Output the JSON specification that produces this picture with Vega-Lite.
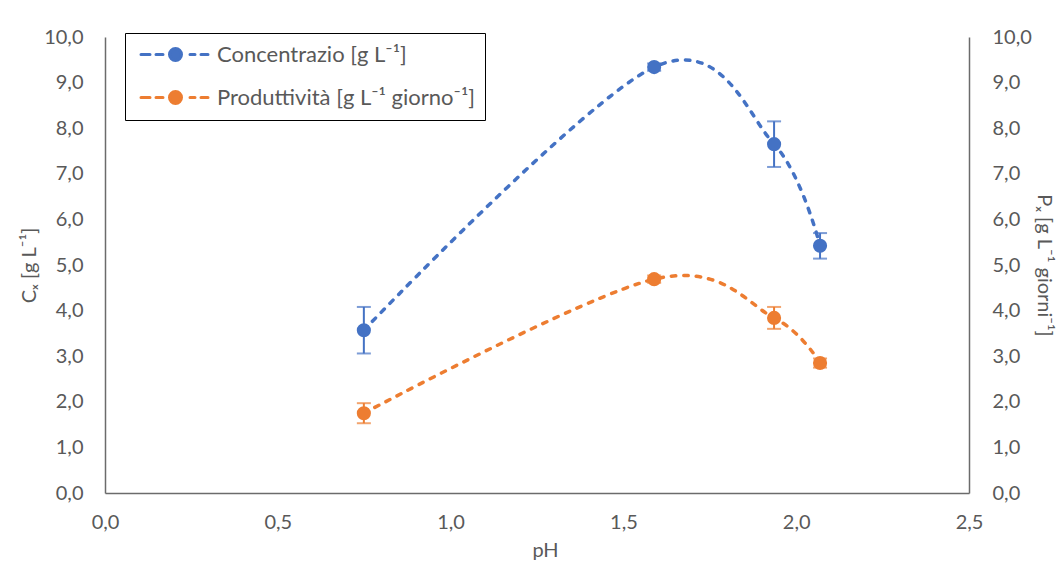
{
  "$schema": "https://vega.github.io/schema/vega-lite/v6.json",
  "autosize": {"type": "none"},
  "padding": {"left": 105, "top": 37, "right": 90, "bottom": 76},
  "width": 864,
  "height": 456,
  "background": "white",
  "data": {"values": [
    {"pH": 0.749, "serie": "Concentrazio [g L⁻¹]", "val": 3.57, "err": 0.51},
    {"pH": 1.589, "serie": "Concentrazio [g L⁻¹]", "val": 9.34, "err": 0.08},
    {"pH": 1.936, "serie": "Concentrazio [g L⁻¹]", "val": 7.65, "err": 0.50},
    {"pH": 2.069, "serie": "Concentrazio [g L⁻¹]", "val": 5.42, "err": 0.28},
    {"pH": 0.749, "serie": "Produttività [g L⁻¹ giorno⁻¹]", "val": 1.75, "err": 0.22},
    {"pH": 1.589, "serie": "Produttività [g L⁻¹ giorno⁻¹]", "val": 4.69, "err": 0.08},
    {"pH": 1.936, "serie": "Produttività [g L⁻¹ giorno⁻¹]", "val": 3.84, "err": 0.24},
    {"pH": 2.069, "serie": "Produttività [g L⁻¹ giorno⁻¹]", "val": 2.85, "err": 0.10}
  ]},
  "encoding": {
    "x": {
      "field": "pH", "type": "quantitative",
      "scale": {"domain": [0, 2.5], "nice": false, "zero": false},
      "axis": {"values": [0, 0.5, 1, 1.5, 2, 2.5], "format": ".1f", "title": "pH", "labelPadding": 19, "titlePadding": 8, "titleX": 440}
    },
    "color": {
      "field": "serie", "type": "nominal",
      "scale": {"domain": ["Concentrazio [g L⁻¹]", "Produttività [g L⁻¹ giorno⁻¹]"], "range": ["#4472C4", "#ED7D31"]},
      "legend": {
        "title": null,
        "orient": "none",
        "legendX": 20,
        "legendY": -4,
        "padding": 10,
        "strokeColor": "#000000",
        "fillColor": "#ffffff",
        "rowPadding": 18,
        "symbolSize": 400,
        "symbolOffset": 29,
        "labelOffset": 30,
        "symbolStrokeWidth": 3,
        "symbolType": "M-3.45,0L-2.55,0M-1.95,0L-1.25,0M1.45,0L1.95,0M2.55,0L3.25,0M-0.6,0A0.6,0.6,0,1,1,0.6,0A0.6,0.6,0,1,1,-0.6,0Z",
        "labelFont": "Lato",
        "labelFontSize": 22,
        "labelColor": "#595959",
        "labelLimit": 400,
        "encode": {
          "symbols": {"update": {
            "fill": {"scale": "color", "field": "value"},
            "stroke": {"scale": "color", "field": "value"},
            "strokeDash": {"value": []},
            "strokeCap": {"value": "round"},
            "opacity": {"value": 1}
          }}
        }
      }
    }
  },
  "layer": [
    {
      "transform": [{"filter": {"field": "serie", "equal": "Concentrazio [g L⁻¹]"}}],
      "encoding": {
        "y": {
          "field": "val", "type": "quantitative",
          "scale": {"domain": [0, 10], "nice": false},
          "axis": {"orient": "left", "values": [0,1,2,3,4,5,6,7,8,9,10], "format": ".1f", "title": "Cₓ [g L⁻¹]", "labelPadding": 22, "titlePadding": 4}
        }
      },
      "layer": [
        {"mark": {"type": "line", "interpolate": "cardinal", "strokeWidth": 3.5, "strokeDash": [4.5, 8], "strokeCap": "round"}},
        {"mark": {"type": "errorbar", "ticks": {"size": 14, "thickness": 2}, "rule": {"strokeWidth": 2}}, "encoding": {"yError": {"field": "err"}}},
        {"mark": {"type": "point", "filled": true, "size": 200, "opacity": 1}}
      ]
    },
    {
      "transform": [{"filter": {"field": "serie", "equal": "Produttività [g L⁻¹ giorno⁻¹]"}}],
      "encoding": {
        "y": {
          "field": "val", "type": "quantitative",
          "scale": {"domain": [0, 10], "nice": false},
          "axis": {"orient": "right", "values": [0,1,2,3,4,5,6,7,8,9,10], "format": ".1f", "title": "Pₓ [g L⁻¹ giorni⁻¹]", "labelPadding": 23, "titlePadding": 2}
        }
      },
      "layer": [
        {"mark": {"type": "line", "interpolate": "cardinal", "strokeWidth": 3.5, "strokeDash": [4.5, 8], "strokeCap": "round"}},
        {"mark": {"type": "errorbar", "ticks": {"size": 14, "thickness": 2}, "rule": {"strokeWidth": 2}}, "encoding": {"yError": {"field": "err"}}},
        {"mark": {"type": "point", "filled": true, "size": 200, "opacity": 1}}
      ]
    }
  ],
  "resolve": {"scale": {"y": "independent"}},
  "config": {
    "locale": {"number": {"decimal": ",", "thousands": ".", "grouping": [3], "currency": ["", " €"]}},
    "view": {"stroke": null},
    "axis": {
      "grid": false,
      "ticks": false,
      "tickSize": 0,
      "labelFlush": false,
      "domainColor": "#6b6b6b",
      "domainWidth": 1.5,
      "labelColor": "#595959",
      "labelFont": "Lato",
      "labelFontSize": 20,
      "titleColor": "#595959",
      "titleFont": "Lato",
      "titleFontSize": 20,
      "titleFontWeight": "normal"
    }
  }
}
